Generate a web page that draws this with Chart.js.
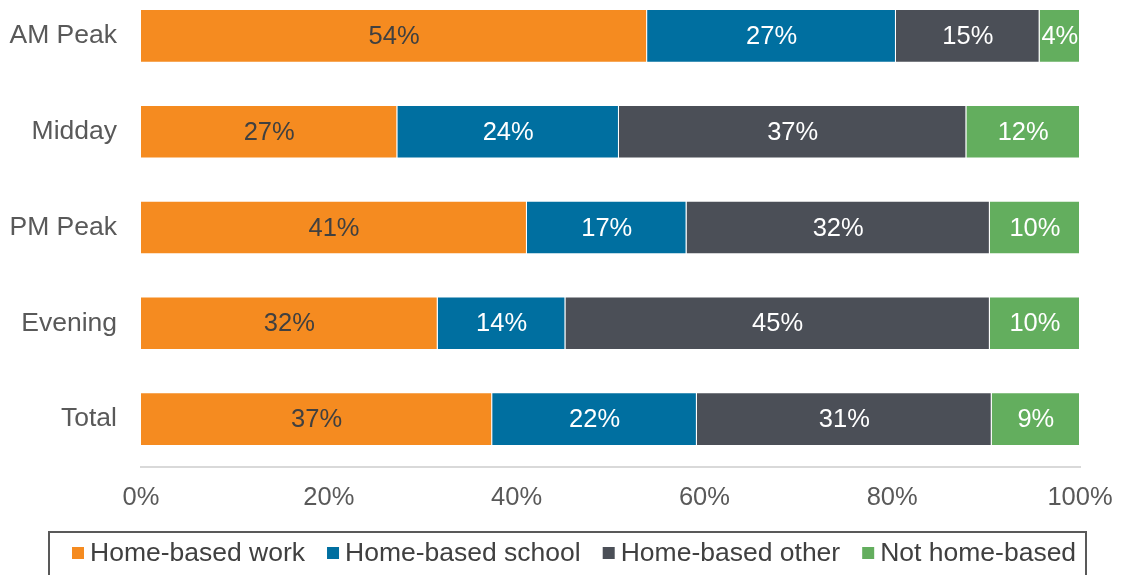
<!DOCTYPE html>
<html><head><meta charset="utf-8">
<script src="https://cdn.jsdelivr.net/npm/chart.js@4/dist/chart.umd.min.js"></script>
<style>html,body{margin:0;padding:0;background:#fff;overflow:hidden}#wrap{position:relative;width:1123px;height:575px;overflow:hidden}#c{position:absolute;left:0;top:-12px}</style>
</head><body><div id="wrap"><canvas id="c" width="1123" height="587"></canvas></div>
<script>
const categories = ['AM Peak', 'Midday', 'PM Peak', 'Evening', 'Total'];
const homeBasedWork = [53.9, 27.3, 41.1, 31.6, 37.4];
const homeBasedSchool = [26.5, 23.6, 17.0, 13.6, 21.8];
const homeBasedOther = [15.3, 37.0, 32.3, 45.2, 31.4];
const notHomeBased = [4.3, 12.1, 9.6, 9.6, 9.4];
const xTickLabels = ['0%', '20%', '40%', '60%', '80%', '100%'];
const seriesNames = ['Home-based work', 'Home-based school', 'Home-based other', 'Not home-based'];
const seriesColors = ['#F58B20', '#006FA0', '#4B4F57', '#63AE5E'];
const labelColors = ['#404040', '#FFFFFF', '#FFFFFF', '#FFFFFF'];

const FONT = '"Liberation Sans", Arial, sans-serif';
const SHIFT = 12;
const seriesData = [homeBasedWork, homeBasedSchool, homeBasedOther, notHomeBased];

const dataLabelPlugin = {
  id: 'dataLabels',
  afterDatasetsDraw(chart) {
    const ctx = chart.ctx;
    ctx.save();
    ctx.font = '25.5px ' + FONT;
    ctx.textAlign = 'center';
    ctx.textBaseline = 'middle';
    chart.data.datasets.forEach((ds, i) => {
      const meta = chart.getDatasetMeta(i);
      ctx.fillStyle = labelColors[i];
      meta.data.forEach((el, j) => {
        const p = el.getProps(['x', 'y', 'base'], true);
        ctx.fillText(Math.round(ds.data[j]) + '%', (p.x + p.base) / 2, p.y + 1);
      });
    });
    ctx.restore();
  }
};

const legendPlugin = {
  id: 'boxLegend',
  afterDraw(chart) {
    const ctx = chart.ctx;
    ctx.save();
    ctx.strokeStyle = '#595959';
    ctx.lineWidth = 2;
    ctx.strokeRect(49, 532 + SHIFT, 1037, 44);
    ctx.font = '26.5px ' + FONT;
    ctx.textBaseline = 'middle';
    ctx.textAlign = 'left';
    let x = 72;
    const cy = 553 + SHIFT;
    chart.data.datasets.forEach((ds, i) => {
      ctx.fillStyle = ds.backgroundColor;
      ctx.fillRect(x, cy - 6, 12, 12);
      x += 18;
      ctx.fillStyle = '#404040';
      ctx.fillText(ds.label, x, cy + 1);
      x += ctx.measureText(ds.label).width + 22;
    });
    ctx.restore();
  }
};

new Chart(document.getElementById('c'), {
  type: 'bar',
  data: {
    labels: categories,
    datasets: seriesNames.map((name, i) => ({
      label: name,
      data: seriesData[i],
      backgroundColor: seriesColors[i],
      borderColor: 'rgba(255,255,255,0.3)',
      borderWidth: 1,
      barPercentage: 0.56,
      categoryPercentage: 1.0
    }))
  },
  options: {
    indexAxis: 'y',
    responsive: false,
    animation: false,
    layout: { padding: { top: 0, right: 43, bottom: 48, left: 0 } },
    plugins: { legend: { display: false }, tooltip: { enabled: false } },
    scales: {
      x: {
        stacked: true,
        min: 0, max: 100,
        ticks: {
          stepSize: 20,
          padding: 16,
          color: '#595959',
          font: { family: FONT, size: 25.5 },
          callback: (v) => xTickLabels[Math.round(v / 20)]
        },
        grid: { display: false, drawTicks: false },
        border: { display: true, color: '#D9D9D9', width: 2 },
        afterFit(s) { s.height = 60; s.paddingLeft = 0; s.paddingRight = 0; s.paddingTop = 0; s.paddingBottom = 0; }
      },
      y: {
        stacked: true,
        ticks: {
          padding: 24,
          color: '#595959',
          font: { family: FONT, size: 26.5 }
        },
        grid: { display: false, drawTicks: false },
        border: { display: false },
        afterFit(s) { s.width = 141; s.paddingLeft = 0; s.paddingRight = 0; s.paddingTop = 0; s.paddingBottom = 0; }
      }
    }
  },
  plugins: [dataLabelPlugin, legendPlugin]
});
</script>
</body></html>
